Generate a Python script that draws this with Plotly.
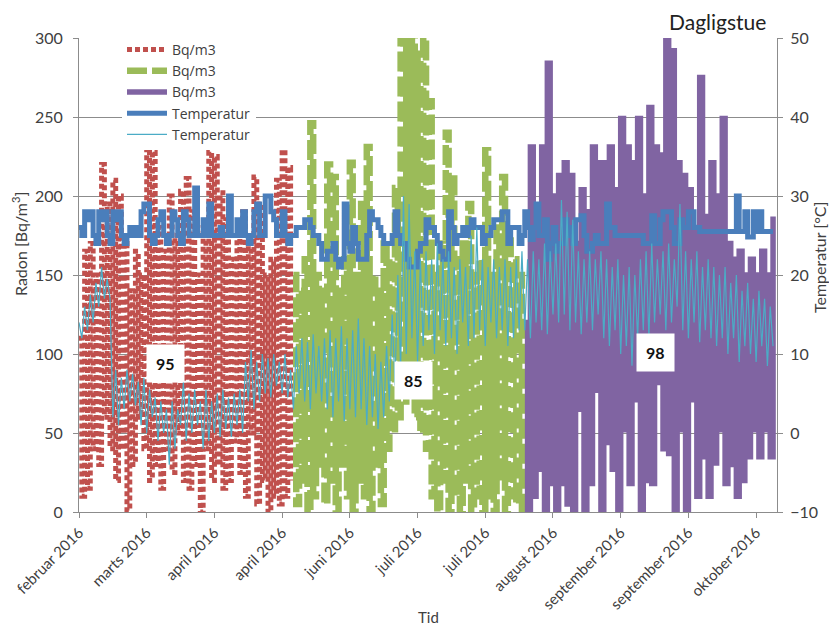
import plotly.graph_objects as go

# ---------------- data ----------------
tick_labels = ["februar 2016", "marts 2016", "april 2016", "april 2016", "juni 2016",
               "juli 2016", "juli 2016", "august 2016", "september 2016",
               "september 2016", "oktober 2016"]
samples_per_tick = 24

radon_period1 = [110, 10, 165, 15, 170, 40, 150, 30, 220, 60, 195, 40, 210, 20, 200, 40,
                 170, 1, 140, 30, 165, 60, 150, 40, 230, 20, 228, 30, 180, 15, 165, 40,
                 200, 25, 175, 50, 203, 20, 211, 15, 190, 30, 150, 0, 180, 40, 228, 20,
                 225, 30, 202, 15, 185, 20, 160, 45, 175, 25, 190, 10, 170, 50, 212, 5,
                 195, 20, 150, 0, 160, 10, 210, 5, 229, 10, 218, 20]

radon_period2 = [150, 5, 140, 20, 160, 0, 246, 10, 150, 30, 140, 5, 220, 20, 212, 0,
                 140, 30, 160, 10, 221, 0, 150, 20, 195, 10, 231, 0, 150, 30, 140, 5,
                 170, 40, 160, 50, 205, 60, 300, 70, 300, 80, 300, 60, 290, 50, 300, 40,
                 260, 10, 150, 0, 170, 20, 240, 0, 211, 10, 160, 0, 170, 20, 195, 0,
                 150, 10, 160, 0, 229, 10, 150, 0, 180, 20, 212, 0, 175, 10, 160, 5,
                 150, 0]

radon_period3 = [120, 0, 231, 10, 190, 27, 231, 0, 284, 18, 200, 0, 213, 18, 221, 5,
                 213, 0, 170, 65, 204, 0, 190, 18, 231, 77, 221, 0, 221, 44, 231, 27,
                 204, 0, 249, 52, 231, 18, 221, 71, 249, 0, 200, 20, 256, 18, 231, 82,
                 226, 40, 300, 37, 292, 0, 221, 52, 213, 0, 204, 71, 180, 10, 275, 35,
                 187, 10, 221, 31, 200, 52, 249, 18, 170, 30, 160, 10, 165, 20, 150, 35,
                 160, 52, 150, 35, 165, 52, 150, 35, 187]

temp_indoor = [26, 25, 28, 27, 28, 25, 24, 28, 27, 28, 25, 24, 28, 27, 28, 25,
               24, 25, 26, 25, 26, 25, 28, 29, 29, 25, 24, 25, 27, 28, 25, 24,
               25, 28, 27, 25, 24, 28, 27, 25, 25, 31, 25, 25, 27, 25, 29, 25,
               25, 25, 26, 25, 25, 30, 25, 25, 27, 25, 28, 25, 24, 25, 28, 29,
               25, 25, 30, 30, 28, 27, 25, 25, 28, 25, 24, 25,
               25, 26, 26, 26, 27, 27, 26, 25, 25, 24, 22, 22, 23, 23, 24, 22,
               21, 22, 29, 24, 23, 26, 24, 22, 22, 22, 25, 28, 27, 27, 26, 25,
               24, 24, 24, 25, 28, 25, 24, 24, 22, 21, 21, 21, 23, 24, 24, 27,
               26, 26, 25, 24, 23, 22, 22, 28, 26, 24, 25, 25, 26, 25, 26, 27,
               26, 26, 26, 24, 25, 25, 26, 27, 27, 27, 28, 28, 24, 26, 26, 26,
               24, 25,
               28, 26, 24.5, 26, 29, 25, 25, 27, 22, 24, 26, 23, 24, 24, 27, 26,
               25, 24, 27, 27, 27.5, 25, 23, 23, 24, 25, 24, 24, 24, 29, 26, 26,
               25, 25, 25, 25, 25, 25, 25, 25, 25, 25, 24, 24, 24, 27.5, 24, 24,
               27, 28, 28, 28, 26, 24, 24, 27, 26, 26, 28, 28, 26, 26, 25.5, 25.5,
               25.5, 25.5, 25.5, 25.5, 25.5, 25.5, 25.5, 25.5, 25.5, 25.5, 25.5, 30,
               25.5, 25.5, 28, 24.8, 24.8, 28, 25.5, 28, 25.5, 25.5, 25.5, 25.5, 25.5]

temp_outdoor = [14, 12, 16, 13, 17.5, 14, 19, 16, 21, 17, 19.5, 17, 2, 8, 1, 7,
                3, 8, 4, 7.5, 3.5, 6.5, 1, 7, 0, 5.5, 2, 4.5, -1, 4, 0, 3,
                -4, 4, -2, 3, 1, 6.5, -1, 5, 0, 5.5, 1, 4, -2, 5.5, -1, 4,
                0, 5, -0.5, 5.5, 0.5, 4.5, -0.5, 5, 1, 5.5, 0, 9, 4, 10.5,
                3, 9, 4, 10, 5, 9.5, 4.5, 10, 6, 9, 5, 10, 4.5, 8,
                3, 11, 5, 12, 4, 11.5, 3, 12.5, 5, 11, 4, 12, 3, 13, 2, 12,
                4, 13.5, 1.5, 12, 3, 13, 2, 14.5, 3, 12, 1, 11, 2, 10, 0.5, 9,
                2, 11, 4, 15, 6, 20, 8, 30, 10, 29, 12, 23, 9, 22, 11, 23,
                13, 22, 10, 24, 13, 22, 11, 23, 12, 21, 10, 22, 14, 21, 11, 25,
                12, 26, 13, 22, 11, 21, 14, 22, 12, 21, 13, 22, 11, 21, 12, 22,
                13, 23,
                13, 22, 12, 23, 14, 22, 13, 24, 12.5, 23, 15, 24, 14, 29.5, 15, 28,
                13, 27, 14, 23, 12.5, 22, 14, 23, 13, 22, 15, 23, 12, 22, 11, 21,
                13, 22, 10, 20, 11, 21, 8.5, 20, 12, 22, 13, 23, 12, 24, 14, 22,
                15, 23, 13, 24, 14, 22, 16, 29, 13, 23, 12, 22, 14, 23, 11.5, 21,
                13, 22, 12, 21, 11, 20, 12, 21, 10, 19, 12, 20, 9, 18, 11, 19,
                10, 17, 9, 18, 11, 17, 8.5, 16, 11]

mean_labels = ["95", "85", "98"]
mean_values = [95, 85, 98]

# ---------------- sample positions ----------------
n1, n2, n3 = len(radon_period1), len(radon_period2), len(radon_period3)
x1 = list(range(0, n1))
x2 = list(range(n1, n1 + n2))
x3 = list(range(n1 + n2, n1 + n2 + n3))
xt = list(range(len(temp_indoor)))
tick_vals = [i * samples_per_tick for i in range(len(tick_labels))]

FONT = "Lato, 'Open Sans', sans-serif"
LFONT = "'Open Sans', Lato, sans-serif"
GRID = "#8c8c8c"
TXT = "#404040"

# page body has an 8px margin: lay out in reference pixels shifted by 8
OFF = 8
W, H = 837 - OFF, 628 - OFF
L, T = 79 - OFF, 38 - OFF
PW, PH = 698, 474
R, B = W - L - PW, H - T - PH


def px(x):
    return (x - OFF - L) / PW


def py(y):
    return (H - B - (y - OFF)) / PH


fig = go.Figure()
fig.add_trace(go.Scatter(x=x1, y=radon_period1, mode="lines", name="Bq/m3",
                         line=dict(color="#C0504D", width=5, dash="5px,3px", shape="hv")))
fig.add_trace(go.Scatter(x=x2, y=radon_period2, mode="lines", name="Bq/m3",
                         line=dict(color="#9BBB59", width=6.5, dash="20px,5px", shape="hv")))
fig.add_trace(go.Scatter(x=x3, y=radon_period3, mode="lines", name="Bq/m3",
                         line=dict(color="#8064A2", width=5.5, shape="hv")))
fig.add_trace(go.Scatter(x=xt, y=temp_indoor, mode="lines", name="Temperatur",
                         line=dict(color="#4A7EBB", width=5, shape="hv"), yaxis="y2"))
fig.add_trace(go.Scatter(x=xt, y=temp_outdoor, mode="lines", name="Temperatur",
                         line=dict(color="#4BACC6", width=1.2), yaxis="y2"))

# label boxes with the period means (positions in data units)
label_x = [30.5, 118.5, 204.5]
label_y = [94, 83, 101]
for lx, ly, lt in zip(label_x, label_y, mean_labels):
    fig.add_annotation(x=lx, y=ly, xref="x", yref="y", text="<b>%s</b>" % lt, showarrow=False,
                       bgcolor="white", borderpad=9,
                       font=dict(family=FONT, size=16, color="#111"))

fig.add_annotation(x=px(768), y=py(22), xref="paper", yref="paper", text="Dagligstue",
                   xanchor="right", yanchor="middle", showarrow=False,
                   font=dict(family=FONT, size=21, color="#222"))
fig.add_annotation(x=px(19), y=py(244), xref="paper", yref="paper",
                   text="Radon [Bq/m<sup>3</sup>]", textangle=-90, showarrow=False,
                   xanchor="center", yanchor="middle",
                   font=dict(family=FONT, size=16, color=TXT))
fig.add_annotation(x=px(819), y=py(258), xref="paper", yref="paper", text="Temperatur [°C]",
                   textangle=-90, showarrow=False, xanchor="center", yanchor="middle",
                   font=dict(family=FONT, size=16, color=TXT))
fig.add_annotation(x=px(428), y=py(617), xref="paper", yref="paper", text="Tid",
                   showarrow=False, xanchor="center", yanchor="middle",
                   font=dict(family=FONT, size=15, color=TXT))

fig.add_shape(type="rect", xref="paper", yref="y", x0=0, x1=px(296), y0=230, y1=290,
              fillcolor="white", line=dict(width=0), layer="between")

fig.update_layout(
    width=W, height=H, margin=dict(l=L, r=R, t=T, b=B, autoexpand=False),
    paper_bgcolor="white", plot_bgcolor="white",
    font=dict(family=FONT, size=15, color=TXT),
    showlegend=True,
    legend=dict(x=px(122), y=py(34), xanchor="left", yanchor="top", bgcolor="white",
                font=dict(family=LFONT, size=14, color=TXT), tracegroupgap=0,
                itemwidth=40),
    xaxis=dict(range=[0, 247.4], tickvals=tick_vals, ticktext=tick_labels, tickangle=-45,
               showgrid=False, zeroline=False, showline=True, linecolor=GRID, linewidth=1,
               ticks="outside", ticklen=5, tickcolor=GRID, automargin=False,
               tickfont=dict(family=FONT, size=15, color=TXT)),
    yaxis=dict(range=[0, 300], dtick=50, showgrid=True, gridcolor=GRID, gridwidth=1,
               zeroline=False, showline=True, linecolor=GRID, ticks="outside", ticklen=5,
               tickcolor=GRID, ticklabelstandoff=7, automargin=False,
               tickfont=dict(family=FONT, size=16, color=TXT)),
    yaxis2=dict(range=[-10, 50], dtick=10, overlaying="y", side="right", showgrid=False,
                zeroline=False, showline=True, linecolor=GRID, ticks="outside", ticklen=5,
                tickcolor=GRID, ticklabelstandoff=4, automargin=False,
                tickfont=dict(family=FONT, size=16, color=TXT)),
)

fig.write_html("out.html")
